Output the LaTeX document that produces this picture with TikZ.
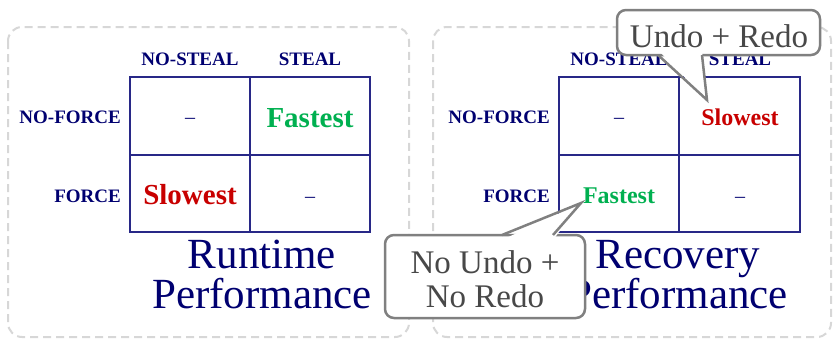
\documentclass[tikz,border=0pt]{standalone}
\usepackage{fontspec}
\setmainfont{Liberation Serif}
\definecolor{navytext}{RGB}{0,0,112}
\definecolor{gridline}{RGB}{40,40,135}
\definecolor{fastgreen}{RGB}{0,176,80}
\definecolor{slowred}{RGB}{200,0,0}
\definecolor{panelgray}{RGB}{215,215,215}
\definecolor{callgray}{RGB}{128,128,128}
\definecolor{calltext}{RGB}{72,72,72}
\tikzset{
  panel/.style={draw=panelgray, line width=2pt, dash pattern=on 8pt off 5pt, rounded corners=14pt},
  grid/.style={draw=gridline, line width=1.3pt},
  hdr/.style={font=\fontsize{19}{22}\selectfont\bfseries, text=navytext, inner sep=0pt, anchor=base},
  rowhdr/.style={hdr, anchor=base east},
  dashcell/.style={font=\fontsize{20}{24}\selectfont, text=navytext, inner sep=0pt, anchor=base},
  bigfast/.style={font=\fontsize{29}{34}\selectfont\bfseries, text=fastgreen, inner sep=0pt, anchor=base},
  bigslow/.style={font=\fontsize{29}{34}\selectfont\bfseries, text=slowred, inner sep=0pt, anchor=base},
  smallfast/.style={font=\fontsize{24}{28}\selectfont\bfseries, text=fastgreen, inner sep=0pt, anchor=base},
  smallslow/.style={font=\fontsize{24}{28}\selectfont\bfseries, text=slowred, inner sep=0pt, anchor=base},
  title/.style={font=\fontsize{43}{40}\selectfont, text=navytext, inner sep=0pt, anchor=base},
  callbox/.style={draw=callgray, fill=white, line width=2.5pt, rounded corners=9pt, inner sep=0pt},
  calltail/.style={draw=callgray, line width=2.5pt, line join=miter},
  calllabel/.style={font=\fontsize{33}{33}\selectfont, text=calltext, inner sep=0pt, anchor=base},
}
\begin{document}
\begin{tikzpicture}[x=1pt, y=-1pt]
\useasboundingbox (0,0) rectangle (833,340);

% ---- dashed panels
\draw[panel] (8,27) rectangle (409,337);
\draw[panel] (433,27) rectangle (831,337);

% ---- left matrix: runtime performance
\draw[grid] (130,77) rectangle (370,232);
\draw[grid] (250,77) -- (250,232);
\draw[grid] (130,155) -- (370,155);
\node[hdr] (lns) at (190,65) {NO-STEAL};
\node[hdr] (lst) at (310,65) {STEAL};
\node[rowhdr] (lnf) at (121,123) {NO-FORCE};
\node[rowhdr] (lfo) at (121,202) {FORCE};
\node[dashcell] (l11) at (190,123) {–};
\node[bigfast] (l12) at (310,127) {Fastest};
\node[bigslow] (l21) at (190,204) {Slowest};
\node[dashcell] (l22) at (310,202) {–};
\node[title] (lt1) at (262,268) {Runtime};
\node[title] (lt2) at (262,308) {Performance};

% ---- right matrix: recovery performance
\draw[grid] (559,77) rectangle (800,232);
\draw[grid] (679,77) -- (679,232);
\draw[grid] (559,155) -- (800,155);
\node[hdr] (rns) at (619,65) {NO-STEAL};
\node[hdr] (rst) at (740,65) {STEAL};
\node[rowhdr] (rnf) at (550,123) {NO-FORCE};
\node[rowhdr] (rfo) at (550,202) {FORCE};
\node[dashcell] (r11) at (619,123) {–};
\node[smallslow] (r12) at (740,125) {Slowest};
\node[smallfast] (r21) at (619,203) {Fastest};
\node[dashcell] (r22) at (740,202) {–};
\node[title] (rt1) at (678,268) {Recovery};
\node[title] (rt2) at (678,308) {Performance};

% ---- callout: undo + redo
\node[callbox, minimum width=203pt, minimum height=45pt] (ur) at (718.5,32.5) {};
\coordinate (urtip) at (707,100);
\fill[white] (658,50) -- (urtip) -- (702,50) -- cycle;
\draw[calltail] (658,55) -- (urtip) -- (702,55);
\node[calllabel] (urtxt) at (719,47) {Undo + Redo};

% ---- callout: no undo + no redo
\node[callbox, minimum width=200pt, minimum height=83pt] (nr) at (485,276.5) {};
\coordinate (nrtip) at (581,203);
\fill[white] (502,240) -- (nrtip) -- (553,240) -- cycle;
\draw[calltail] (502,235) -- (nrtip) -- (553,235);
\node[calllabel] (nrtxt1) at (485,273) {No Undo +};
\node[calllabel] (nrtxt2) at (485,307) {No Redo};
\end{tikzpicture}
\end{document}
